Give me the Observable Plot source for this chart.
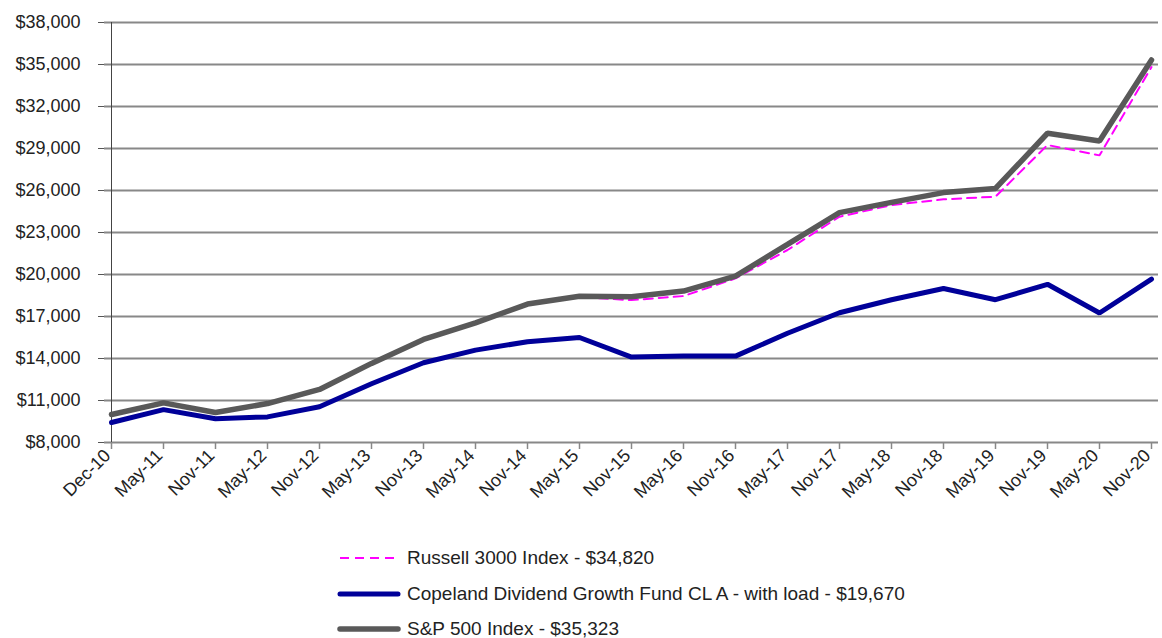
<!DOCTYPE html>
<html>
<head>
<meta charset="utf-8">
<script src="https://cdn.jsdelivr.net/npm/d3@7"></script>
<script src="https://cdn.jsdelivr.net/npm/@observablehq/plot@0.6"></script>
<style>
  html, body { margin: 0; padding: 0; background: #fff; }
  #chart { width: 1162px; height: 520px; }
  .legend { position: relative; width: 1162px; height: 118px; font-family: "Liberation Sans", Arial, sans-serif; font-size: 19px; color: #222; }
  .legend .row { position: absolute; left: 337px; display: flex; align-items: center; height: 22px; }
  .legend svg { margin-right: 6px; }
</style>
</head>
<body>
<div id="chart"></div>
<script>
const labels = ["Dec-10","May-11","Nov-11","May-12","Nov-12","May-13","Nov-13","May-14","Nov-14","May-15","Nov-15","May-16","Nov-16","May-17","Nov-17","May-18","Nov-18","May-19","Nov-19","May-20","Nov-20"];
const copeland = [9425,10350,9700,9830,10550,12200,13700,14600,15200,15500,14100,14170,14170,15800,17270,18200,19000,18200,19300,17250,19670];
const sp500 = [10000,10830,10140,10780,11790,13650,15360,16550,17890,18440,18410,18820,19890,22150,24420,25150,25850,26150,30090,29540,35323];
const russell = [10000,10800,10100,10750,11750,13600,15330,16500,17850,18380,18170,18460,19720,21750,24130,24960,25370,25560,29250,28510,34820];
const yTicks = [8000,11000,14000,17000,20000,23000,26000,29000,32000,35000,38000];
const seriesNames = ["Russell 3000 Index - $34,820","Copeland Dividend Growth Fund CL A - with load - $19,670","S&P 500 Index - $35,323"];

const fmt = d => "$" + d3.format(",")(d);

const chart = Plot.plot({
  width: 1162,
  height: 520,
  marginLeft: 104,
  marginRight: 4,
  marginTop: 22,
  marginBottom: 78,
  style: { fontFamily: "Liberation Sans, Arial, sans-serif", fontSize: "18px", color: "#222", background: "#fff" },
  x: { type: "point", domain: labels, padding: 0 },
  y: { domain: [8000, 38000] },
  marks: [
    Plot.gridY(yTicks, { stroke: "#888", strokeWidth: 2, strokeOpacity: 1 }),
    Plot.axisY(yTicks, { tickFormat: fmt, tickSize: 6, tickPadding: 18, stroke: "#555", fontSize: 18 }),
    Plot.axisX({ tickSize: 7, tickFormat: () => "", stroke: "#888", strokeWidth: 1.5 }),
    Plot.axisX({ tickSize: 0, tickRotate: -45, tickPadding: 10, dx: -4, fontSize: 18 }),
    Plot.ruleX([labels[0]], { y1: 8000, y2: 38000, stroke: "#444", strokeWidth: 1 }),
    Plot.line(labels, { x: d => d, y: (d, i) => russell[i], stroke: "#ff00ff", strokeWidth: 2, strokeDasharray: "9,6" }),
    Plot.line(labels, { x: d => d, y: (d, i) => copeland[i], stroke: "#000099", strokeWidth: 5, strokeLinejoin: "miter" }),
    Plot.line(labels, { x: d => d, y: (d, i) => sp500[i], stroke: "#595959", strokeWidth: 5.5, strokeLinejoin: "miter" })
  ]
});
document.getElementById("chart").appendChild(chart);

const legend = document.createElement("div");
legend.className = "legend";
const styles = [
  { stroke: "#ff00ff", w: 2, dash: "9,6", cap: "butt" },
  { stroke: "#000099", w: 5, dash: null, cap: "round" },
  { stroke: "#595959", w: 5.5, dash: null, cap: "round" }
];
const tops = [27, 63, 98];
seriesNames.forEach((name, i) => {
  const row = document.createElement("div");
  row.className = "row";
  row.style.top = tops[i] + "px";
  const s = styles[i];
  row.innerHTML = `<svg width="64" height="10"><line x1="3" y1="5" x2="61" y2="5" stroke="${s.stroke}" stroke-width="${s.w}" stroke-linecap="${s.cap}" ${s.dash ? `stroke-dasharray="${s.dash}"` : ""}/></svg><span>${name}</span>`;
  legend.appendChild(row);
});
document.body.appendChild(legend);
</script>
</body>
</html>
